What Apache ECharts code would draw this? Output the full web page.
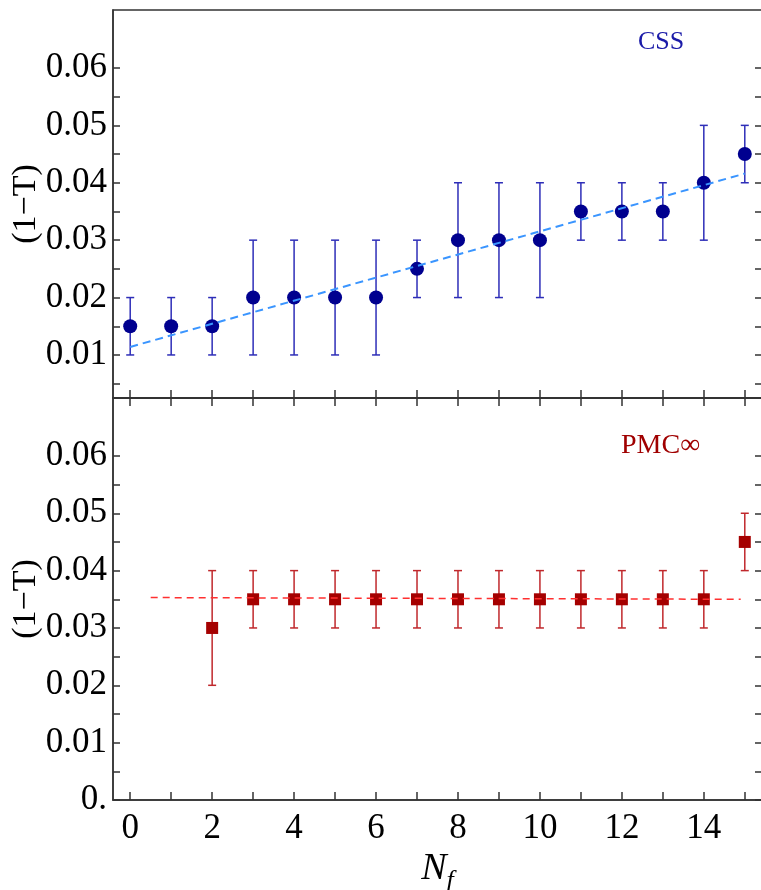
<!DOCTYPE html>
<html>
<head>
<meta charset="utf-8">
<script src="https://cdn.jsdelivr.net/npm/echarts@6/dist/echarts.min.js"></script>
<style>
  html, body { margin: 0; padding: 0; background: #fff; }
  #chart { width: 761px; height: 890px; }
</style>
</head>
<body>
<div id="chart"></div>
<script>
// CSS panel
const cssNf = [0, 1, 2, 3, 4, 5, 6, 7, 8, 9, 10, 11, 12, 13, 14, 15];
const cssVal = [0.015, 0.015, 0.015, 0.02, 0.02, 0.02, 0.02, 0.025, 0.03, 0.03, 0.03, 0.035, 0.035, 0.035, 0.04, 0.045];
const cssLo = [0.01, 0.01, 0.01, 0.01, 0.01, 0.01, 0.01, 0.02, 0.02, 0.02, 0.02, 0.03, 0.03, 0.03, 0.03, 0.04];
const cssHi = [0.02, 0.02, 0.02, 0.03, 0.03, 0.03, 0.03, 0.03, 0.04, 0.04, 0.04, 0.04, 0.04, 0.04, 0.05, 0.05];
const cssFitX = [0, 15];
const cssFitY = [0.0114, 0.0416];

// PMC panel
const pmcNf = [2, 3, 4, 5, 6, 7, 8, 9, 10, 11, 12, 13, 14, 15];
const pmcVal = [0.03, 0.035, 0.035, 0.035, 0.035, 0.035, 0.035, 0.035, 0.035, 0.035, 0.035, 0.035, 0.035, 0.045];
const pmcLo = [0.02, 0.03, 0.03, 0.03, 0.03, 0.03, 0.03, 0.03, 0.03, 0.03, 0.03, 0.03, 0.03, 0.04];
const pmcHi = [0.04, 0.04, 0.04, 0.04, 0.04, 0.04, 0.04, 0.04, 0.04, 0.04, 0.04, 0.04, 0.04, 0.05];
const pmcFitX = [0.5, 14.9];
const pmcFitY = [0.0353, 0.035];

// ticks
const xTicks = [0, 1, 2, 3, 4, 5, 6, 7, 8, 9, 10, 11, 12, 13, 14, 15];
const xLabels = [0, 2, 4, 6, 8, 10, 12, 14];
const yTicksTop = [0.005, 0.01, 0.015, 0.02, 0.025, 0.03, 0.035, 0.04, 0.045, 0.05, 0.055, 0.06];
const yLabelsTop = [0.01, 0.02, 0.03, 0.04, 0.05, 0.06];
const yTicksBottom = [0, 0.005, 0.01, 0.015, 0.02, 0.025, 0.03, 0.035, 0.04, 0.045, 0.05, 0.055, 0.06];
const yLabelsBottom = [0, 0.01, 0.02, 0.03, 0.04, 0.05, 0.06];

const FONT = "'Liberation Serif', 'DejaVu Serif', serif";
const AXIS_COLOR = "#333";

const chart = echarts.init(document.getElementById("chart"));

function zip2(a, b) {
  return a.map((v, i) => [v, b[i]]);
}
function zip3(a, b, c) {
  return a.map((v, i) => [v, b[i], c[i]]);
}

function errorBars(color) {
  return function (params, api) {
    const x = api.value(0);
    const lo = api.coord([x, api.value(1)]);
    const hi = api.coord([x, api.value(2)]);
    const w = 4;
    const style = { stroke: color, lineWidth: 1.5 };
    return {
      type: "group",
      children: [
        { type: "line", shape: { x1: lo[0], y1: lo[1], x2: hi[0], y2: hi[1] }, style: style },
        { type: "line", shape: { x1: lo[0] - w, y1: lo[1], x2: lo[0] + w, y2: lo[1] }, style: style },
        { type: "line", shape: { x1: hi[0] - w, y1: hi[1], x2: hi[0] + w, y2: hi[1] }, style: style },
      ],
    };
  };
}

function xAxis(gridIndex, position, withLabels) {
  return {
    type: "value",
    gridIndex: gridIndex,
    position: position,
    min: -0.42,
    max: 15.42,
    splitLine: { show: false },
    axisLine: { show: true, onZero: false, lineStyle: { color: AXIS_COLOR, width: 1.5 } },
    axisTick: {
      show: true,
      inside: true,
      length: 8,
      customValues: xTicks,
      lineStyle: { color: AXIS_COLOR, width: 1.5 },
    },
    axisLabel: {
      show: withLabels,
      customValues: xLabels,
      margin: 11,
      fontFamily: FONT,
      fontSize: 35,
      color: "#000",
    },
  };
}

function yAxis(gridIndex, position, min, ticks, labels, withLabels) {
  return {
    type: "value",
    gridIndex: gridIndex,
    position: position,
    min: min,
    max: 0.0701,
    splitLine: { show: false },
    axisLine: { show: true, onZero: false, lineStyle: { color: AXIS_COLOR, width: 1.5 } },
    axisTick: {
      show: true,
      inside: true,
      length: 7,
      customValues: ticks,
      lineStyle: { color: AXIS_COLOR, width: 1.5 },
    },
    axisLabel: {
      show: withLabels,
      customValues: labels,
      margin: 6,
      fontFamily: FONT,
      fontSize: 35,
      color: "#000",
      formatter: (v) => (v === 0 ? "0." : v.toFixed(2)),
    },
    name: withLabels ? "(1\u2212T)" : "",
    nameLocation: "middle",
    nameRotate: 90,
    nameGap: 70,
    nameMoveOverlap: false,
    nameTextStyle: { fontFamily: FONT, fontSize: 34, color: "#000" },
  };
}

const option = {
  animation: false,
  title: [
    {
      text: "CSS",
      left: 633,
      top: 24,
      textStyle: { fontFamily: FONT, fontSize: 26, fontWeight: "normal", color: "#1a1aa8" },
    },
    {
      text: "PMC\u221e",
      left: 616,
      top: 427,
      textStyle: { fontFamily: FONT, fontSize: 28, fontWeight: "normal", color: "#a00000" },
    },
  ],
  grid: [
    {
      left: 113, top: 10, width: 649, height: 388,
      outerBoundsMode: "none", containLabel: false,
      show: true, borderColor: AXIS_COLOR, borderWidth: 1.5,
    },
    {
      left: 113, top: 398, width: 649, height: 402,
      outerBoundsMode: "none", containLabel: false,
      show: true, borderColor: AXIS_COLOR, borderWidth: 1.5,
    },
  ],
  xAxis: [
    xAxis(0, "bottom", false),
    Object.assign(xAxis(1, "bottom", true), {
      name: "{n|N}{f|f}",
      nameLocation: "middle",
      nameGap: 50,
      nameTextStyle: {
        rich: {
          n: { fontFamily: FONT, fontSize: 38, fontStyle: "italic", color: "#000", verticalAlign: "top" },
          f: { fontFamily: FONT, fontSize: 26, fontStyle: "italic", color: "#000", verticalAlign: "top", padding: [18, 0, 0, 0] },
        },
      },
    }),
    xAxis(1, "top", false),
  ],
  yAxis: [
    yAxis(0, "left", 0.0025, yTicksTop, yLabelsTop, true),
    yAxis(1, "left", 0, yTicksBottom, yLabelsBottom, true),
    yAxis(0, "right", 0.0025, yTicksTop, yLabelsTop, false),
    yAxis(1, "right", 0, yTicksBottom, yLabelsBottom, false),
  ],
  series: [
    {
      type: "custom",
      xAxisIndex: 0,
      yAxisIndex: 0,
      renderItem: errorBars("#2e2eb8"),
      encode: { x: 0, y: [1, 2] },
      data: zip3(cssNf, cssLo, cssHi),
      z: 2,
    },
    {
      type: "scatter",
      xAxisIndex: 0,
      yAxisIndex: 0,
      symbol: "circle",
      symbolSize: 14,
      itemStyle: { color: "#00008f", opacity: 1 },
      data: zip2(cssNf, cssVal),
      z: 3,
    },
    {
      type: "line",
      xAxisIndex: 0,
      yAxisIndex: 0,
      showSymbol: false,
      lineStyle: { color: "#3a95ff", width: 2, type: [8, 5] },
      data: zip2(cssFitX, cssFitY),
      z: 4,
    },
    {
      type: "custom",
      xAxisIndex: 1,
      yAxisIndex: 1,
      renderItem: errorBars("#c0282c"),
      encode: { x: 0, y: [1, 2] },
      data: zip3(pmcNf, pmcLo, pmcHi),
      z: 2,
    },
    {
      type: "scatter",
      xAxisIndex: 1,
      yAxisIndex: 1,
      symbol: "rect",
      symbolSize: 12,
      itemStyle: { color: "#a50000", opacity: 1 },
      data: zip2(pmcNf, pmcVal),
      z: 3,
    },
    {
      type: "line",
      xAxisIndex: 1,
      yAxisIndex: 1,
      showSymbol: false,
      lineStyle: { color: "#ff3030", width: 1.5, type: [7, 5] },
      data: zip2(pmcFitX, pmcFitY),
      z: 4,
    },
  ],
};

chart.setOption(option);
</script>
</body>
</html>
